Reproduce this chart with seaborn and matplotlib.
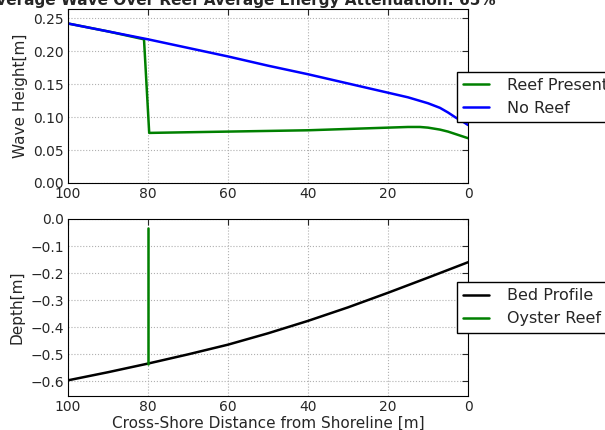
import numpy as np
import pandas as pd
import matplotlib
matplotlib.use("Agg")
import matplotlib.pyplot as plt
import seaborn as sns

# wave heights along the cross-shore transect
dist_noreef = [100, 90, 80, 70, 60, 50, 40, 30, 20, 15, 10, 7, 5, 3, 1, 0]
h_noreef = [0.242, 0.230, 0.218, 0.205, 0.192, 0.178, 0.165, 0.151, 0.137, 0.130, 0.121, 0.114, 0.107, 0.099, 0.092, 0.088]

dist_reef = [100, 90, 81, 79.7, 70, 60, 50, 40, 30, 20, 15, 12, 10, 7, 5, 3, 1, 0]
h_reef = [0.242, 0.230, 0.218, 0.076, 0.077, 0.078, 0.079, 0.080, 0.082, 0.084, 0.085, 0.085, 0.084, 0.081, 0.078, 0.074, 0.070, 0.068]

# bed profile and reef
dist_bed = [100, 90, 80, 70, 60, 50, 40, 30, 20, 10, 0]
depth_bed = [-0.597, -0.567, -0.535, -0.501, -0.465, -0.423, -0.377, -0.327, -0.273, -0.217, -0.160]
dist_oyster = [80, 80]
depth_oyster = [-0.535, -0.035]

title = "Average Wave Over Reef Average Energy Attenuation: 65%"

sns.set_style("whitegrid", {
    "grid.linestyle": ":",
    "grid.color": "#b0b0b0",
    "axes.edgecolor": "black",
    "axes.linewidth": 1.0,
})
plt.rcParams["font.family"] = ["DejaVu Sans"]

fig = plt.figure(figsize=(6.05, 4.3), dpi=100)
ax1 = fig.add_axes([68 / 605, 1 - 183 / 430, 400 / 605, 174 / 430])
ax2 = fig.add_axes([68 / 605, 1 - 396 / 430, 400 / 605, 177 / 430])

legend_kw = dict(loc="upper left", fancybox=False, edgecolor="black", framealpha=1,
                 fontsize=11.5, borderaxespad=0, handlelength=1.6, handletextpad=1.1)

df_reef = pd.DataFrame({"x": dist_reef, "y": h_reef})
df_noreef = pd.DataFrame({"x": dist_noreef, "y": h_noreef})
sns.lineplot(data=df_reef, x="x", y="y", ax=ax1, color="green", lw=1.8,
             label="Reef Present", sort=False, estimator=None)
sns.lineplot(data=df_noreef, x="x", y="y", ax=ax1, color="blue", lw=1.8,
             label="No Reef", sort=False, estimator=None)
ax1.set_xlim(100, 0)
ax1.set_ylim(0, 0.264)
ax1.set_yticks([0, 0.05, 0.10, 0.15, 0.20, 0.25])
ax1.set_yticklabels(["0.00", "0.05", "0.10", "0.15", "0.20", "0.25"])
ax1.set_xticks([100, 80, 60, 40, 20, 0])
ax1.set_xlabel("")
ax1.set_ylabel("Wave Height[m]", fontsize=11)
ax1.legend(bbox_to_anchor=(0.9725, 0.64), **legend_kw)

df_bed = pd.DataFrame({"x": dist_bed, "y": depth_bed})
df_oyster = pd.DataFrame({"x": dist_oyster, "y": depth_oyster})
sns.lineplot(data=df_bed, x="x", y="y", ax=ax2, color="black", lw=1.8,
             label="Bed Profile", sort=False, estimator=None)
sns.lineplot(data=df_oyster, x="x", y="y", ax=ax2, color="green", lw=1.8,
             label="Oyster Reef", sort=False, estimator=None)
ax2.set_xlim(100, 0)
ax2.set_ylim(-0.655, 0)
ax2.set_yticks([0, -0.1, -0.2, -0.3, -0.4, -0.5, -0.6])
ax2.set_xticks([100, 80, 60, 40, 20, 0])
ax2.set_xlabel("Cross-Shore Distance from Shoreline [m]", fontsize=11, labelpad=1)
ax2.set_ylabel("Depth[m]", fontsize=11)
ax2.legend(bbox_to_anchor=(0.9725, 0.644), **legend_kw)

for ax in (ax1, ax2):
    ax.tick_params(labelsize=10, length=4, direction="in", top=True, right=True, pad=3)
    for s in ax.spines.values():
        s.set_color("black")

fig.text(240 / 605, 1 - 4.5 / 430, title, ha="center", va="baseline",
         fontsize=11, fontweight="bold")

fig.savefig("out.png", dpi=100)
